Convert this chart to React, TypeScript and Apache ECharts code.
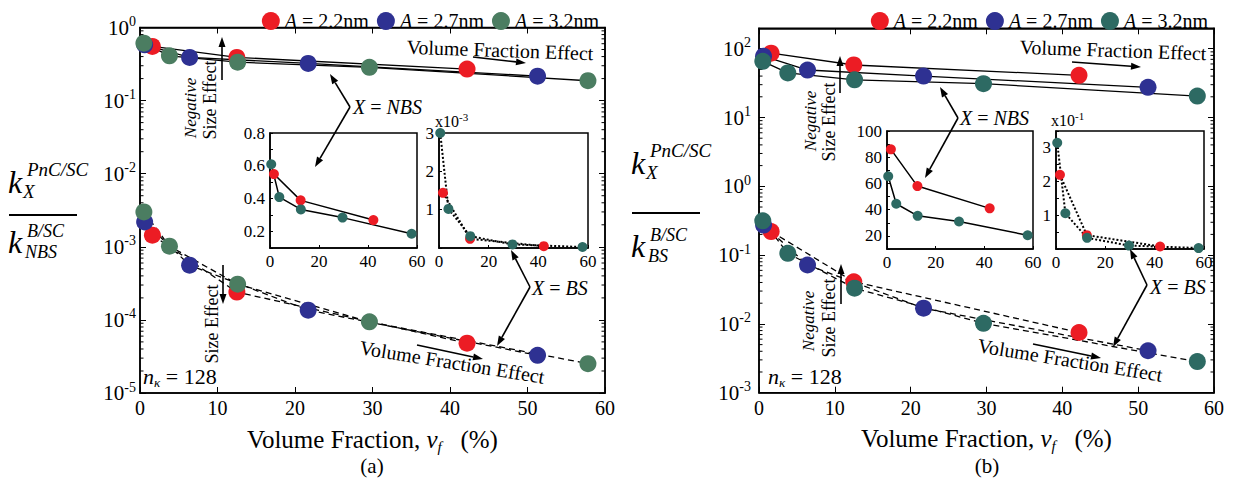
import { useEffect, useRef } from 'react';
import * as echarts from 'echarts';

const SERIF = 'Liberation Serif, Times New Roman, serif';

// Volume fraction (%) of the samples for each crystal size A
const vfA22 = [1.6, 12.5, 42.2];
const vfA27 = [0.6, 6.4, 21.7, 51.3];
const vfA32 = [0.5, 3.8, 12.6, 29.6, 57.8];

// (a) normalised conductivity, X = NBS
const nbsA22a = [0.55, 0.39, 0.27];
const nbsA27a = [0.58, 0.39, 0.323, 0.216];
const nbsA32a = [0.61, 0.41, 0.335, 0.285, 0.187];
// (a) normalised conductivity, X = BS
const bsA22a = [1.44e-3, 2.4e-4, 4.8e-5];
const bsA27a = [2.19e-3, 5.6e-4, 1.36e-4, 3.28e-5];
const bsA32a = [3.0e-3, 1.02e-3, 3.08e-4, 9.4e-5, 2.52e-5];

// (b) normalised conductivity, X = NBS
const nbsA22b = [86, 58, 41];
const nbsA27b = [78, 49, 40, 27.5];
const nbsA32b = [65.5, 44.5, 35.3, 31, 20.5];
// (b) normalised conductivity, X = BS
const bsA22b = [0.22, 0.041, 0.0075];
const bsA27b = [0.273, 0.0718, 0.0169, 0.00407];
const bsA32b = [0.315, 0.106, 0.033, 0.0102, 0.00283];

const sizeNames = ['A = 2.2nm', 'A = 2.7nm', 'A = 3.2nm'];
const sizeNamesB = sizeNames.map((n) => n + ' ');
const xTicks = [0, 10, 20, 30, 40, 50, 60];

const RED = '#ec1c24';
const BLUE = '#2e3192';
const GREEN = '#4b7d61';
const TEAL = '#2d6a63';

type Pt = [number, number];
const pairs = (xs: number[], ys: number[], k = 1): Pt[] => xs.map((x, i) => [x, ys[i] * k]);

// minor ticks of a decade-based log axis (2..9 in every decade)
const minorTicks = (lo: number, hi: number, cap: number): Pt[] => {
  const out: Pt[] = [];
  for (let e = lo; e < hi; e++) {
    for (let m = 2; m <= 9; m++) {
      const v = m * Math.pow(10, e);
      if (v < cap) out.push([0, v]);
    }
  }
  return out;
};

const black = '#000';

const lineS = (name: string, xi: number, yi: number, data: Pt[], type: any, width = 1.3) => ({
  type: 'line', name, xAxisIndex: xi, yAxisIndex: yi, data, symbol: 'none', silent: true,
  lineStyle: { color: black, width, type }, z: 2,
});
const dotS = (name: string, xi: number, yi: number, data: Pt[], color: string, size: number) => ({
  type: 'scatter', name, xAxisIndex: xi, yAxisIndex: yi, data, symbol: 'circle', symbolSize: size,
  itemStyle: { color, opacity: 1 }, z: 3, silent: true,
});
const minorS = (xi: number, yi: number, data: Pt[]) => ({
  type: 'custom', xAxisIndex: xi, yAxisIndex: yi, data, silent: true, z: 1, clip: false,
  renderItem: (_p: any, api: any) => {
    const v = api.value(1);
    const l = api.coord([0, v]);
    const r = api.coord([60, v]);
    return {
      type: 'group',
      children: [
        { type: 'line', shape: { x1: l[0], y1: l[1], x2: l[0] + 3.5, y2: l[1] }, style: { stroke: black, lineWidth: 1 } },
        { type: 'line', shape: { x1: r[0] - 3.5, y1: r[1], x2: r[0], y2: r[1] }, style: { stroke: black, lineWidth: 1 } },
      ],
    };
  },
});

const powLabel = (v: number) => {
  const lg = Math.log10(v);
  const e = Math.round(lg);
  if (Math.abs(lg - e) > 1e-6) return '';
  return `{b|10}{e|${e}}`;
};
const powRich = {
  b: { fontFamily: SERIF, fontSize: 21, color: black, lineHeight: 26 },
  e: { fontFamily: SERIF, fontSize: 14, color: black, verticalAlign: 'top' },
};

const mainX = (gridIndex: number, position: 'bottom' | 'top') => ({
  type: 'value', gridIndex, position, min: 0, max: 60, interval: 10,
  axisLine: { show: true, onZero: false, lineStyle: { color: black, width: 1.5 } },
  axisTick: { show: true, inside: true, length: 6, lineStyle: { color: black, width: 1 } },
  axisLabel: {
    show: position === 'bottom', fontFamily: SERIF, fontSize: 20, color: black, margin: 5,
    formatter: (v: number) => (xTicks.includes(v) ? String(v) : ''),
  },
  splitLine: { show: false },
  ...(position === 'bottom'
    ? {
        name: 'Volume Fraction, {i|v}{s|f}   (%)',
        nameLocation: 'middle',
        nameGap: 31,
        nameTextStyle: {
          fontFamily: SERIF, fontSize: 25, color: black, lineHeight: 30,
          rich: {
            i: { fontFamily: SERIF, fontSize: 25, fontStyle: 'italic', color: black },
            s: { fontFamily: SERIF, fontSize: 15, fontStyle: 'italic', color: black, verticalAlign: 'bottom' },
          },
        },
      }
    : {}),
});

const mainY = (gridIndex: number, position: 'left' | 'right', min: number, max: number, margin: number) => ({
  type: 'log', logBase: 10, gridIndex, position, min, max,
  axisLine: { show: true, onZero: false, lineStyle: { color: black, width: 1.5 } },
  axisTick: { show: true, inside: true, length: 6, lineStyle: { color: black, width: 1 } },
  axisLabel: { show: position === 'left', formatter: powLabel, rich: powRich, margin },
  splitLine: { show: false },
  minorTick: { show: false },
});

const insetX = (gridIndex: number) => ({
  type: 'value', gridIndex, min: 0, max: 60, interval: 20,
  axisLine: { show: true, onZero: false, lineStyle: { color: black, width: 1.5 } },
  axisTick: { show: true, inside: true, length: 3, lineStyle: { color: black } },
  axisLabel: { fontFamily: SERIF, fontSize: 17, color: black, margin: 5 },
  splitLine: { show: false },
});

const insetY = (gridIndex: number, min: number, max: number, interval: number, fmt: (v: number) => string) => ({
  type: 'value', gridIndex, min, max, interval,
  axisLine: { show: true, onZero: false, lineStyle: { color: black, width: 1.5 } },
  axisTick: { show: true, inside: true, length: 3, lineStyle: { color: black } },
  axisLabel: { fontFamily: SERIF, fontSize: 17, color: black, margin: 5, formatter: fmt },
  splitLine: { show: false },
});

const arrow = (x1: number, y1: number, x2: number, y2: number, head = 10) => {
  const a = Math.atan2(y2 - y1, x2 - x1);
  const c = Math.cos(a);
  const s = Math.sin(a);
  const bx = x2 - head * c;
  const by = y2 - head * s;
  const w = 3.5;
  return [
    { type: 'line', z: 100, shape: { x1, y1, x2: bx, y2: by }, style: { stroke: black, lineWidth: 1.6 } },
    {
      type: 'polygon', z: 100,
      shape: { points: [[x2, y2], [bx - s * w, by + c * w], [bx + s * w, by - c * w]] },
      style: { fill: black },
    },
  ];
};

const txt = (x: number, y: number, text: string, size: number, extra: any = {}, rotation = 0) => ({
  type: 'text', x, y, rotation, z: 100,
  style: {
    text, fontFamily: SERIF, fontSize: size, fill: black, align: 'center', verticalAlign: 'middle',
    ...extra,
  },
});

const italic = (size: number) => ({ fontFamily: SERIF, fontSize: size, fontStyle: 'italic', fill: black, color: black });

// the stacked ratio k_X / k_sub used as y-axis title
const ratioTitle = (x0: number, yTop: number, yBar: number, yBot: number, den: string) => [
  txt(x0 + 6, yTop + 13, 'k', 32, { fontStyle: 'italic' }),
  txt(x0 + 18, yTop, 'PnC/SC', 19, { fontStyle: 'italic', align: 'left' }),
  txt(x0 + 14, yTop + 22, 'X', 19, { fontStyle: 'italic', align: 'left' }),
  { type: 'line', z: 100, shape: { x1: x0, y1: yBar, x2: x0 + 68, y2: yBar }, style: { stroke: black, lineWidth: 2 } },
  txt(x0 + 6, yBot + 5, 'k', 32, { fontStyle: 'italic' }),
  txt(x0 + 18, yBot - 6, 'B/SC', 18, { fontStyle: 'italic', align: 'left' }),
  txt(x0 + 16, yBot + 15, den, 18, { fontStyle: 'italic', align: 'left' }),
];

const richXeq = (lhs: string) => ({
  text: `{i|X}{t| = }{i|${lhs}}`,
  rich: { i: italic(20), t: { fontFamily: SERIF, fontSize: 20, fill: black, color: black } },
  align: 'left',
});
const richN = {
  text: '{i|n}{s|κ}{t| = 128}',
  align: 'left',
  rich: {
    i: { ...italic(22), lineHeight: 26 },
    s: { ...italic(13), verticalAlign: 'bottom' },
    t: { fontFamily: SERIF, fontSize: 22, fill: black, color: black },
  },
};
const richScale = (e: string) => ({
  text: `{t|x10}{e|${e}}`,
  align: 'left',
  rich: {
    t: { fontFamily: SERIF, fontSize: 16, fill: black, color: black, lineHeight: 20 },
    e: { fontFamily: SERIF, fontSize: 11, fill: black, color: black, verticalAlign: 'top' },
  },
});

const legend = (right: number, names: string[]) => ({
  right, top: 6, itemWidth: 18, itemHeight: 18, itemGap: 8, icon: 'circle', selectedMode: false,
  data: names,
  formatter: (n: string) => `{i|A}${n.trim().slice(1)}`,
  textStyle: {
    fontFamily: SERIF, fontSize: 20, color: black,
    rich: { i: { fontFamily: SERIF, fontSize: 20, fontStyle: 'italic', color: black } },
  },
});

const buildOption = () => {
  const series: any[] = [
    // (a) main
    minorS(0, 0, minorTicks(-5, 0, 1)),
    lineS('nbs-a-22', 0, 0, pairs(vfA22, nbsA22a), 'solid'),
    lineS('nbs-a-27', 0, 0, pairs(vfA27, nbsA27a), 'solid'),
    lineS('nbs-a-32', 0, 0, pairs(vfA32, nbsA32a), 'solid'),
    lineS('bs-a-22', 0, 0, pairs(vfA22, bsA22a), [6, 4]),
    lineS('bs-a-27', 0, 0, pairs(vfA27, bsA27a), [6, 4]),
    lineS('bs-a-32', 0, 0, pairs(vfA32, bsA32a), [6, 4]),
    dotS(sizeNames[0], 0, 0, pairs(vfA22, nbsA22a), RED, 17),
    dotS(sizeNames[1], 0, 0, pairs(vfA27, nbsA27a), BLUE, 17),
    dotS(sizeNames[2], 0, 0, pairs(vfA32, nbsA32a), GREEN, 17),
    dotS(sizeNames[0], 0, 0, pairs(vfA22, bsA22a), RED, 17),
    dotS(sizeNames[1], 0, 0, pairs(vfA27, bsA27a), BLUE, 17),
    dotS(sizeNames[2], 0, 0, pairs(vfA32, bsA32a), GREEN, 17),
    // (b) main
    minorS(2, 2, minorTicks(-3, 3, 198)),
    lineS('nbs-b-22', 2, 2, pairs(vfA22, nbsA22b), 'solid'),
    lineS('nbs-b-27', 2, 2, pairs(vfA27, nbsA27b), 'solid'),
    lineS('nbs-b-32', 2, 2, pairs(vfA32, nbsA32b), 'solid'),
    lineS('bs-b-22', 2, 2, pairs(vfA22, bsA22b), [6, 4]),
    lineS('bs-b-27', 2, 2, pairs(vfA27, bsA27b), [6, 4]),
    lineS('bs-b-32', 2, 2, pairs(vfA32, bsA32b), [6, 4]),
    dotS(sizeNamesB[0], 2, 2, pairs(vfA22, nbsA22b), RED, 17),
    dotS(sizeNamesB[1], 2, 2, pairs(vfA27, nbsA27b), BLUE, 17),
    dotS(sizeNamesB[2], 2, 2, pairs(vfA32, nbsA32b), TEAL, 17),
    dotS(sizeNamesB[0], 2, 2, pairs(vfA22, bsA22b), RED, 17),
    dotS(sizeNamesB[1], 2, 2, pairs(vfA27, bsA27b), BLUE, 17),
    dotS(sizeNamesB[2], 2, 2, pairs(vfA32, bsA32b), TEAL, 17),
    // (a) insets: NBS linear, BS in units of 1e-3
    lineS('in-a-nbs-22', 4, 4, pairs(vfA22, nbsA22a), 'solid', 1.5),
    lineS('in-a-nbs-32', 4, 4, pairs(vfA32, nbsA32a), 'solid', 1.5),
    dotS('in-a-nbs-22d', 4, 4, pairs(vfA22, nbsA22a), RED, 10),
    dotS('in-a-nbs-32d', 4, 4, pairs(vfA32, nbsA32a), TEAL, 10),
    lineS('in-a-bs-22', 5, 5, pairs(vfA22, bsA22a, 1e3), [2, 2], 2),
    lineS('in-a-bs-32', 5, 5, pairs(vfA32, bsA32a, 1e3), [2, 2], 2),
    dotS('in-a-bs-22d', 5, 5, pairs(vfA22, bsA22a, 1e3), RED, 10),
    dotS('in-a-bs-32d', 5, 5, pairs(vfA32, bsA32a, 1e3), TEAL, 10),
    // (b) insets: NBS linear, BS in units of 1e-1
    lineS('in-b-nbs-22', 6, 6, pairs(vfA22, nbsA22b), 'solid', 1.5),
    lineS('in-b-nbs-32', 6, 6, pairs(vfA32, nbsA32b), 'solid', 1.5),
    dotS('in-b-nbs-22d', 6, 6, pairs(vfA22, nbsA22b), RED, 10),
    dotS('in-b-nbs-32d', 6, 6, pairs(vfA32, nbsA32b), TEAL, 10),
    lineS('in-b-bs-22', 7, 7, pairs(vfA22, bsA22b, 10), [2, 2], 2),
    lineS('in-b-bs-32', 7, 7, pairs(vfA32, bsA32b, 10), [2, 2], 2),
    dotS('in-b-bs-22d', 7, 7, pairs(vfA22, bsA22b, 10), RED, 10),
    dotS('in-b-bs-32d', 7, 7, pairs(vfA32, bsA32b, 10), TEAL, 10),
  ];

  const graphic: any[] = [
    ...ratioTitle(9, 169, 215, 237, 'NBS'),
    ...ratioTitle(632, 150, 213, 241, 'BS'),
    // panel (a) notes
    txt(500, 50, 'Volume Fraction Effect', 20, {}, -0.035),
    ...arrow(473, 57, 526, 63),
    txt(190, 108, 'Negative', 17, { fontStyle: 'italic' }, Math.PI / 2),
    txt(210, 100, 'Size Effect', 18, {}, Math.PI / 2),
    ...arrow(222, 80, 222, 37),
    ...arrow(350, 107, 330, 74),
    ...arrow(350, 107, 315, 167),
    txt(353, 107, '', 20, richXeq('NBS')),
    txt(212, 324, 'Size Effect', 18, {}, Math.PI / 2),
    ...arrow(223, 265, 223, 304),
    ...arrow(530, 287, 511, 250),
    ...arrow(530, 287, 497, 346),
    txt(532, 288, '', 20, richXeq('BS')),
    txt(452, 362, 'Volume Fraction Effect', 20, {}, -0.16),
    ...arrow(417, 345, 483, 359),
    txt(143, 376, '', 22, richN),
    txt(435, 121, '', 16, richScale('-3')),
    txt(372, 466, '(a)', 21),
    // panel (b) notes
    txt(1113, 50, 'Volume Fraction Effect', 20, {}, -0.035),
    ...arrow(1072, 62, 1141, 67),
    txt(810, 121, 'Negative', 17, { fontStyle: 'italic' }, Math.PI / 2),
    txt(829, 122, 'Size Effect', 18, {}, Math.PI / 2),
    ...arrow(840, 93, 840, 56),
    ...arrow(958, 118, 940, 87),
    ...arrow(958, 118, 925, 178),
    txt(960, 118, '', 20, richXeq('NBS')),
    txt(808, 321, 'Negative', 17, { fontStyle: 'italic' }, Math.PI / 2),
    txt(829, 318, 'Size Effect', 18, {}, Math.PI / 2),
    ...arrow(841, 304, 841, 264),
    ...arrow(1147, 285, 1130, 249),
    ...arrow(1147, 285, 1113, 347),
    txt(1150, 287, '', 20, richXeq('BS')),
    txt(1070, 360, 'Volume Fraction Effect', 20, {}, -0.16),
    ...arrow(1033, 344, 1101, 358),
    txt(768, 376, '', 22, richN),
    txt(1051, 120, '', 16, richScale('-1')),
    txt(987, 466, '(b)', 21),
  ];

  return {
    animation: false,
    backgroundColor: '#fff',
    legend: [legend(632, sizeNames), legend(23, sizeNamesB)],
    grid: [
      { left: 140, top: 27.5, width: 465, height: 365.5, show: true, borderColor: black, borderWidth: 1.5, backgroundColor: 'transparent' },
      { left: 759, top: 28.3, width: 455, height: 364.4, show: true, borderColor: black, borderWidth: 1.5, backgroundColor: 'transparent' },
      { left: 270, top: 133, width: 147, height: 115, show: true, borderColor: black, borderWidth: 1.5, backgroundColor: '#fff' },
      { left: 439, top: 133, width: 149, height: 115, show: true, borderColor: black, borderWidth: 1.5, backgroundColor: '#fff' },
      { left: 887, top: 131, width: 146, height: 118, show: true, borderColor: black, borderWidth: 1.5, backgroundColor: '#fff' },
      { left: 1056, top: 131, width: 148, height: 118, show: true, borderColor: black, borderWidth: 1.5, backgroundColor: '#fff' },
    ],
    xAxis: [
      mainX(0, 'bottom'),
      mainX(0, 'top'),
      mainX(1, 'bottom'),
      mainX(1, 'top'),
      insetX(2),
      insetX(3),
      insetX(4),
      insetX(5),
    ],
    yAxis: [
      mainY(0, 'left', 1e-5, 1, 4),
      mainY(0, 'right', 1e-5, 1, 4),
      mainY(1, 'left', 1e-3, 198, 8),
      mainY(1, 'right', 1e-3, 198, 8),
      insetY(2, 0.1, 0.8, 0.1, (v) => (Math.round(v * 10) % 2 === 0 ? v.toFixed(1) : '')),
      insetY(3, 0, 3, 1, (v) => (v === 0 ? '' : String(v))),
      insetY(4, 10, 100, 10, (v) => (Math.round(v) % 20 === 0 ? String(Math.round(v)) : '')),
      insetY(5, 0, 3.5, 0.5, (v) => (v > 0 && Number.isInteger(v) ? String(v) : '')),
    ],
    series,
    graphic: { elements: graphic },
  };
};

export default function App() {
  const ref = useRef<HTMLDivElement>(null);
  useEffect(() => {
    document.body.style.margin = '0';
    const chart = echarts.init(ref.current!, null, { renderer: 'svg', width: 1236, height: 483 });
    chart.setOption(buildOption() as any);
    return () => chart.dispose();
  }, []);
  return <div ref={ref} style={{ width: 1236, height: 483, background: '#fff' }} />;
}
